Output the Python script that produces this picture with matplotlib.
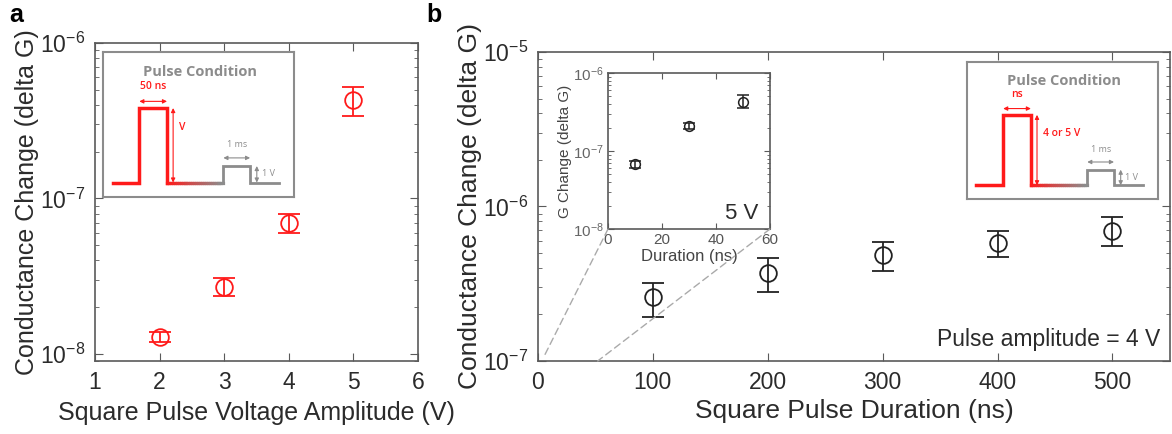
import numpy as np
import matplotlib
matplotlib.use("Agg")
import matplotlib.pyplot as plt
from matplotlib.collections import LineCollection
from matplotlib.patches import ConnectionPatch
from matplotlib.ticker import LogLocator, NullFormatter

plt.rcParams["font.family"] = ["Liberation Sans", "DejaVu Sans"]
plt.rcParams["mathtext.default"] = "regular"

# panel a: amplitude sweep (50 ns pulses)
volt = [2, 3, 4, 5]
dg_volt = [1.28e-8, 2.68e-8, 6.9e-8, 4.3e-7]
dg_volt_lo = [1.2e-8, 2.35e-8, 6.0e-8, 3.4e-7]
dg_volt_hi = [1.38e-8, 3.1e-8, 7.9e-8, 5.2e-7]

# panel b: duration sweep at 4 V
dur = [100, 200, 300, 400, 500]
dg_dur = [2.6e-7, 3.72e-7, 4.85e-7, 5.8e-7, 6.9e-7]
dg_dur_lo = [1.93e-7, 2.8e-7, 3.83e-7, 4.7e-7, 5.55e-7]
dg_dur_hi = [3.2e-7, 4.65e-7, 5.9e-7, 6.9e-7, 8.5e-7]

# inset b: short pulses at 5 V
dur5 = [10, 30, 50]
dg5 = [6.8e-8, 2.1e-7, 4.3e-7]
dg5_lo = [6.1e-8, 1.9e-7, 3.55e-7]
dg5_hi = [7.5e-8, 2.3e-7, 5.2e-7]

# pulse schematic outline (axes fractions)
pulse_x = [0.05, 0.19, 0.19, 0.335, 0.335]
pulse_y = [0.10, 0.10, 0.614, 0.614, 0.10]
read_x = [0.63, 0.63, 0.77, 0.77, 0.92]
read_y = [0.10, 0.214, 0.214, 0.10, 0.10]

TXT = "#2b2b2b"
SPINE = "#5a5a5a"
RED = "#ff1a1a"
GRAY = "#8c8c8c"


def style_axes(ax, fs=16, pad=7):
    for s in ax.spines.values():
        s.set_color(SPINE)
        s.set_linewidth(1.2)
    ax.tick_params(which="both", direction="in", top=True, right=True,
                   colors=SPINE, labelcolor=TXT, labelsize=fs, pad=pad)
    ax.tick_params(which="major", length=6)
    ax.tick_params(which="minor", length=3)
    ax.yaxis.set_minor_locator(LogLocator(base=10, subs=np.arange(2, 10)))
    ax.yaxis.set_minor_formatter(NullFormatter())


def pulse_inset(rect, width_label, amp_label):
    ax = fig.add_axes(rect)
    ax.set_xlim(0, 1)
    ax.set_ylim(0, 1)
    ax.set_xticks([])
    ax.set_yticks([])
    for s in ax.spines.values():
        s.set_color(GRAY)
        s.set_linewidth(1.5)
    ax.text(0.51, 0.86, "Pulse Condition", ha="center", va="center",
            color=GRAY, fontsize=10.5, fontweight="bold", family="Open Sans")
    ax.plot(pulse_x, pulse_y, color=RED, lw=2.5, solid_joinstyle="miter")
    ax.plot(read_x, read_y, color=GRAY, lw=2, solid_joinstyle="miter")
    # fading baseline red -> gray
    xs = np.linspace(pulse_x[-1], read_x[0], 30)
    pts = np.array([xs, np.full_like(xs, 0.10)]).T.reshape(-1, 1, 2)
    segs = np.concatenate([pts[:-1], pts[1:]], axis=1)
    t = np.linspace(0, 1, len(segs))
    r0 = np.array([1.0, 0.1, 0.1])
    g0 = np.array([0.55, 0.55, 0.55])
    cols = [tuple(r0 * (1 - v) + g0 * v) for v in t]
    ax.add_collection(LineCollection(segs, colors=cols, linewidths=2.3,
                                     capstyle="projecting"))
    arrow = dict(arrowstyle="<|-|>", color=RED, lw=0.8, mutation_scale=6,
                 shrinkA=0, shrinkB=0)
    ax.annotate("", xy=(0.19, 0.66), xytext=(0.335, 0.66), arrowprops=arrow)
    ax.text(0.26, 0.76, width_label, color=RED, fontsize=7.5, ha="center",
            va="center", family="Open Sans", fontweight="semibold")
    ax.annotate("", xy=(0.367, 0.614), xytext=(0.367, 0.10), arrowprops=arrow)
    ax.text(0.40, 0.48, amp_label, color=RED, fontsize=7.5, ha="left",
            va="center", family="Open Sans", fontweight="semibold")
    garrow = dict(arrow, color=GRAY)
    ax.annotate("", xy=(0.63, 0.27), xytext=(0.77, 0.27), arrowprops=garrow)
    ax.text(0.70, 0.36, "1 ms", color=GRAY, fontsize=6.5, ha="center",
            va="center", family="Open Sans")
    ax.annotate("", xy=(0.805, 0.214), xytext=(0.805, 0.10), arrowprops=garrow)
    ax.text(0.83, 0.16, "1 V", color=GRAY, fontsize=6.5, ha="left",
            va="center", family="Open Sans")
    return ax


fig = plt.figure(figsize=(11.72, 4.34), dpi=100)

# ---- panel a
axa = fig.add_axes([0.0811, 0.1682, 0.2756, 0.7327])
yerr_a = [np.array(dg_volt) - np.array(dg_volt_lo),
          np.array(dg_volt_hi) - np.array(dg_volt)]
axa.errorbar(volt, dg_volt, yerr=yerr_a, fmt="o", mfc="none", mec=RED,
             ecolor=RED, ms=12, mew=1.3, elinewidth=1.3, capsize=8, capthick=1.3)
axa.set_yscale("log")
axa.set_xlim(1, 6)
axa.set_ylim(9e-9, 1e-6)
axa.set_xticks([1, 2, 3, 4, 5, 6])
style_axes(axa, 16.5)
axa.set_xlabel("Square Pulse Voltage Amplitude (V)", fontsize=18, color=TXT,
               labelpad=5)
axa.set_ylabel("Conductance Change (delta G)", fontsize=18, color=TXT, labelpad=1)
fig.text(0.008, 0.965, "a", fontsize=18, fontweight="bold", va="center")

pulse_inset([0.0879, 0.546, 0.163, 0.334], "50 ns", "V")

# ---- panel b
axb = fig.add_axes([0.459, 0.1682, 0.5392, 0.712])
yerr_b = [np.array(dg_dur) - np.array(dg_dur_lo),
          np.array(dg_dur_hi) - np.array(dg_dur)]
axb.errorbar(dur, dg_dur, yerr=yerr_b, fmt="o", mfc="none", mec="#222222",
             ecolor="#222222", ms=12, mew=1.3, elinewidth=1.3, capsize=8,
             capthick=1.3)
axb.set_yscale("log")
axb.set_xlim(0, 550)
axb.set_ylim(1e-7, 1e-5)
axb.set_xticks([0, 100, 200, 300, 400, 500])
style_axes(axb, 16.5)
axb.set_xlabel("Square Pulse Duration (ns)", fontsize=19, color=TXT, labelpad=4)
axb.set_ylabel("Conductance Change (delta G)", fontsize=19, color=TXT, labelpad=1)
axb.text(0.985, 0.07, "Pulse amplitude = 4 V", transform=axb.transAxes,
         ha="right", va="center", fontsize=16.5, color=TXT)
fig.text(0.364, 0.965, "b", fontsize=18, fontweight="bold", va="center")

# inset b: 5 V short pulses
axi = fig.add_axes([0.5188, 0.4724, 0.1382, 0.3594])
yerr_i = [np.array(dg5) - np.array(dg5_lo), np.array(dg5_hi) - np.array(dg5)]
axi.errorbar(dur5, dg5, yerr=yerr_i, fmt="o", mfc="none", mec="#222222",
             ecolor="#222222", ms=7, mew=1.1, elinewidth=1.1, capsize=4,
             capthick=1.1)
axi.set_yscale("log")
axi.set_xlim(0, 60)
axi.set_ylim(1e-8, 1e-6)
axi.set_xticks([0, 20, 40, 60])
style_axes(axi, 11, pad=3)
axi.tick_params(which="major", length=4)
axi.tick_params(which="minor", length=2)
axi.tick_params(axis="y", labelcolor="#666666")
axi.tick_params(axis="x", labelcolor="#555555")
axi.set_xlabel("Duration (ns)", fontsize=12, color="#444444", labelpad=1)
axi.set_ylabel("G Change (delta G)", fontsize=11, color="#444444", labelpad=1)
axi.text(0.93, 0.1, "5 V", transform=axi.transAxes, ha="right", va="center",
         fontsize=16, color=TXT)

for xa, xb in [((0, 0), (5, 1.06e-7)), ((1, 0), (52, 1e-7))]:
    con = ConnectionPatch(xyA=xa, coordsA=axi.transAxes, xyB=xb,
                          coordsB=axb.transData, color="#aaaaaa", lw=1,
                          ls=(0, (5, 3)))
    fig.add_artist(con)

pulse_inset([0.825, 0.5415, 0.163, 0.3157], "ns", "4 or 5 V")

fig.savefig("out.png", dpi=100)
